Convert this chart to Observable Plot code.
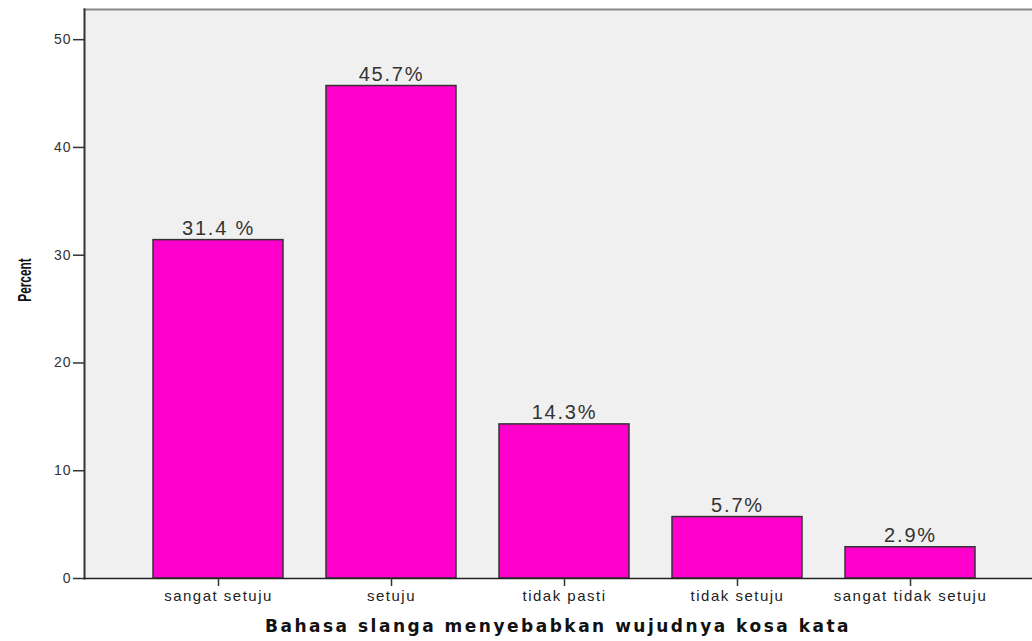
<!DOCTYPE html>
<html>
<head>
<meta charset="utf-8">
<script src="https://cdn.jsdelivr.net/npm/d3@7"></script>
<script src="https://cdn.jsdelivr.net/npm/@observablehq/plot@0.6"></script>
<style>
  body { margin: 0; background: #fff; }
  svg { display: block; }
</style>
</head>
<body>
<div id="chart"></div>
<script>
const categories = ["sangat setuju", "setuju", "tidak pasti", "tidak setuju", "sangat tidak setuju"];
const percents = [31.4, 45.7, 14.3, 5.7, 2.9];
const barLabels = ["31.4 %", "45.7%", "14.3%", "5.7%", "2.9%"];
const yTicks = [0, 10, 20, 30, 40, 50];
const xTitle = "Bahasa slanga menyebabkan wujudnya kosa kata";
const yTitle = "Percent";

const data = categories.map((c, i) => ({cat: c, pct: percents[i], label: barLabels[i]}));

const chart = Plot.plot({
  width: 1032,
  height: 641,
  marginLeft: 84,
  marginRight: 0,
  marginTop: 9,
  marginBottom: 63,
  style: {fontFamily: "Liberation Sans, Arial, sans-serif", background: "#fff"},
  x: {domain: categories, range: [153, 974.75], paddingInner: 0.25, paddingOuter: 0, axis: null},
  y: {domain: [0, 52.8], axis: null},
  marks: [
    Plot.frame({fill: "#f0f0f0", stroke: "none"}),
    Plot.frame({anchor: "top", stroke: "#888", strokeWidth: 2}),
    Plot.frame({anchor: "left", stroke: "#333", strokeWidth: 2}),
    Plot.barY(data, {x: "cat", y: "pct", fill: "#ff00cc", stroke: "#333", strokeWidth: 1.5}),
    Plot.text(data, {x: "cat", y: "pct", text: "label", lineAnchor: "bottom", dy: -5, fontSize: 20, fill: "#333"}),
    Plot.ruleY([0], {stroke: "#222", strokeWidth: 1.5}),
    Plot.axisY({ticks: yTicks, tickSize: 11, tickPadding: 2, fontSize: 14, label: null, stroke: "#333", color: "#333", strokeWidth: 1.5}),
    Plot.axisX({tickSize: 8, tickPadding: 4, fontSize: 15, label: null, stroke: "#333", color: "#222", strokeWidth: 1.5}),
  ]
});

const svg = d3.select(chart);
svg.selectAll("g[aria-label='text'] text")
  .attr("letter-spacing", "1.8")
  .style("letter-spacing", "1.8px");
svg.selectAll("g[aria-label='x-axis tick label'] text")
  .style("letter-spacing", "1.5px");
svg.selectAll("g[aria-label='y-axis tick label'] text")
  .style("letter-spacing", "1px");
svg.append("text")
  .attr("x", (84 + 1032) / 2)
  .attr("y", 632)
  .attr("text-anchor", "middle")
  .attr("font-family", "DejaVu Sans, Verdana, sans-serif")
  .attr("font-weight", "bold")
  .attr("font-size", 17)
  .attr("letter-spacing", 2.5)
  .attr("fill", "#111")
  .text(xTitle);
svg.append("text")
  .attr("transform", "translate(31,280) rotate(-90) scale(0.66,1)")
  .attr("text-anchor", "middle")
  .attr("font-family", "Liberation Sans, Arial, sans-serif")
  .attr("font-weight", "bold")
  .attr("font-size", 18)
  .attr("fill", "#111")
  .text(yTitle);

document.getElementById("chart").appendChild(chart);
</script>
</body>
</html>
